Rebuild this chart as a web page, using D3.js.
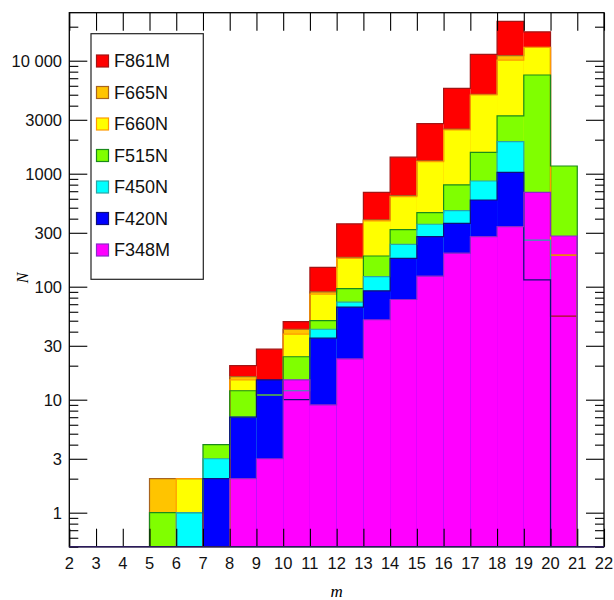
<!DOCTYPE html>
<html>
<head>
<meta charset="utf-8">
<script src="https://cdn.jsdelivr.net/npm/d3@7"></script>
<style>
  html, body { margin: 0; padding: 0; background: #fff; }
  svg { display: block; }
</style>
</head>
<body>
<svg id="chart" width="614" height="600"></svg>
<script>
// ---- data ----
const binStarts = [5, 6, 7, 8, 9, 10, 11, 12, 13, 14, 15, 16, 17, 18, 19, 20];
const seriesNames = ["F861M", "F665N", "F660N", "F515N", "F450N", "F420N", "F348M"];
const F861M = [0, 0, 0, 20, 28, 49, 148, 360, 684, 1400, 2780, 5700, 11400, 22300, 18000, 55];
const F665N = [2, 2, 0, 16, 11, 42, 90, 182, 390, 640, 1300, 2480, 5050, 11100, 13100, 190];
const F660N = [0, 2, 0, 15, 11, 38, 86, 178, 383, 626, 1277, 2436, 4970, 10100, 13100, 190];
const F515N = [1, 1, 4, 12, 11, 24, 50, 96, 187, 320, 452, 795, 1546, 3250, 7470, 1170];
const F450N = [0, 1, 3, 7, 11, 12, 42, 73, 123, 237, 357, 471, 862, 1920, 258, 0];
const F420N = [0, 0, 2, 7, 15, 10, 35, 66, 92, 178, 277, 364, 585, 1028, 115, 0];
const F348M = [0, 0, 0, 2, 3, 15, 9, 23, 51, 77, 124, 198, 277, 340, 684, 281];
const fillColors = ["#ff0000", "#ffc400", "#ffff00", "#80ff00", "#00ffff", "#0000ff", "#ff00ff"];
const edgeColors = ["#a31515", "#a8641e", "#ff9a00", "#1a8a1a", "#2aa6a6", "#10107a", "#8a2ac8"];
const xTickValues = d3.range(2, 23);
const yMajorTicks = [1, 3, 10, 30, 100, 300, 1000, 3000, 10000];
const yMajorLabels = ["1", "3", "10", "30", "100", "300", "1000", "3000", "10 000"];
const xDomain = [2, 22];
const yDomain = [0.5, 26600];

const seriesValues = [F861M, F665N, F660N, F515N, F450N, F420N, F348M];

// ---- layout ----
const L = 69.3, R = 604, T = 12.7, B = 546.7;
const svg = d3.select("#chart");

const x = d3.scaleLinear().domain(xDomain).range([L, R]);
const y = d3.scaleLog().domain(yDomain).range([B, T]).clamp(true);
const yv = v => v > 0 ? y(v) : B;

svg.append("defs").append("clipPath").attr("id", "plotclip")
  .append("rect").attr("x", L).attr("y", T).attr("width", R - L).attr("height", B - T);

const plot = svg.append("g").attr("clip-path", "url(#plotclip)");

// fills, back to front in legend order
seriesValues.forEach((vals, si) => {
  plot.append("g").selectAll("rect")
    .data(binStarts.map((e, i) => ({ e, v: vals[i] })).filter(d => d.v > 0))
    .join("rect")
    .attr("x", d => x(d.e))
    .attr("width", d => x(d.e + 1) - x(d.e))
    .attr("y", d => yv(d.v))
    .attr("height", d => B - yv(d.v))
    .attr("fill", fillColors[si]);
});

// step outlines on top
const line = d3.line().x(d => x(d[0])).y(d => yv(d[1])).curve(d3.curveStepAfter);
seriesValues.forEach((vals, si) => {
  const pts = [[xDomain[0], 0]];
  binStarts.forEach((e, i) => pts.push([e, vals[i]]));
  pts.push([binStarts[binStarts.length - 1] + 1, 0]);
  pts.push([xDomain[1], 0]);
  plot.append("path")
    .attr("d", line(pts))
    .attr("fill", "none")
    .attr("stroke", edgeColors[si])
    .attr("stroke-width", 1.2);
});

// ---- axes (inward ticks on all sides) ----
const axes = svg.append("g").attr("stroke", "#000").attr("fill", "none");
const majorLen = 18, minorLen = 9;

// x ticks bottom and top
const xAxisB = d3.axisTop(x).tickValues(xTickValues).tickSize(majorLen).tickFormat("");
const xAxisT = d3.axisBottom(x).tickValues(xTickValues).tickSize(majorLen).tickFormat("");
svg.append("g").attr("transform", `translate(0,${B})`).call(xAxisB).call(g => g.select(".domain").remove())
  .selectAll("line").attr("stroke", "#000").attr("stroke-width", 1.1);
svg.append("g").attr("transform", `translate(0,${T})`).call(xAxisT).call(g => g.select(".domain").remove())
  .selectAll("line").attr("stroke", "#000").attr("stroke-width", 1.1);

// y minor ticks
const yMinor = [];
for (let d = -1; d <= 4; d++) {
  [2, 4, 5, 6, 7, 8, 9].forEach(m => {
    const v = m * Math.pow(10, d);
    if (v >= yDomain[0] && v <= yDomain[1]) yMinor.push(v);
  });
}
[[d3.axisRight, L], [d3.axisLeft, R]].forEach(([ax, pos]) => {
  svg.append("g").attr("transform", `translate(${pos},0)`)
    .call(ax(y).tickValues(yMajorTicks).tickSize(majorLen).tickFormat(""))
    .call(g => g.select(".domain").remove())
    .selectAll("line").attr("stroke", "#000").attr("stroke-width", 1.1);
  svg.append("g").attr("transform", `translate(${pos},0)`)
    .call(ax(y).tickValues(yMinor).tickSize(minorLen).tickFormat(""))
    .call(g => g.select(".domain").remove())
    .selectAll("line").attr("stroke", "#000").attr("stroke-width", 1.1);
});

// frame
svg.append("rect").attr("x", L).attr("y", T).attr("width", R - L).attr("height", B - T)
  .attr("fill", "none").attr("stroke", "#000").attr("stroke-width", 1.3);
// redraw baseline outline colour over frame bottom (zero-level outlines)
svg.append("line").attr("x1", L).attr("x2", R).attr("y1", B).attr("y2", B)
  .attr("stroke", "#2a1a5a").attr("stroke-width", 1.6);

// tick labels
const labelFont = "'Liberation Sans', Arial, Helvetica, sans-serif";
svg.append("g").selectAll("text").data(xTickValues).join("text")
  .attr("x", d => x(d)).attr("y", 568.5)
  .attr("text-anchor", "middle")
  .attr("font-family", labelFont).attr("font-size", 16.5).attr("fill", "#111")
  .text(d => d);
svg.append("g").selectAll("text").data(yMajorTicks).join("text")
  .attr("x", 62).attr("y", d => y(d))
  .attr("dy", "0.36em")
  .attr("text-anchor", "end")
  .attr("font-family", labelFont).attr("font-size", 16.5).attr("fill", "#111")
  .text((d, i) => yMajorLabels[i]);

// axis titles
svg.append("text").attr("x", (L + R) / 2).attr("y", 597)
  .attr("text-anchor", "middle")
  .attr("font-family", "'Liberation Serif', 'Times New Roman', serif")
  .attr("font-style", "italic").attr("font-size", 17).text("m");
svg.append("text").attr("transform", "translate(28,278) rotate(-90)")
  .attr("text-anchor", "middle")
  .attr("font-family", "'Liberation Serif', 'Times New Roman', serif")
  .attr("font-style", "italic").attr("font-size", 16).text("N");

// legend
const lg = svg.append("g");
lg.append("rect").attr("x", 91).attr("y", 33.7).attr("width", 112.3).attr("height", 245.6)
  .attr("fill", "#fff").attr("stroke", "#222").attr("stroke-width", 1.2);
const legendY = d3.scalePoint().domain(seriesNames).range([61, 250]);
seriesNames.forEach((name, i) => {
  const cy = legendY(name);
  lg.append("rect").attr("x", 96.5).attr("y", cy - 6).attr("width", 12).attr("height", 12)
    .attr("fill", fillColors[i]).attr("stroke", edgeColors[i]).attr("stroke-width", 1.2);
  lg.append("text").attr("x", 114).attr("y", cy).attr("dy", "0.36em")
    .attr("font-family", labelFont).attr("font-size", 18).attr("fill", "#111")
    .text(name);
});
</script>
</body>
</html>
